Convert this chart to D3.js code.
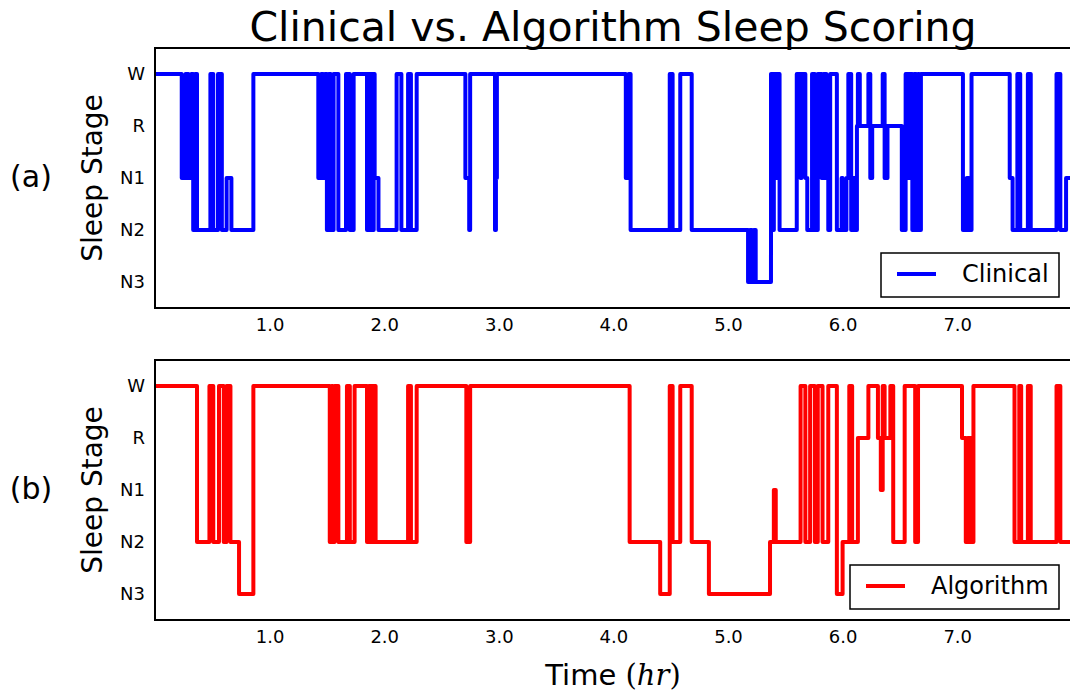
<!DOCTYPE html>
<html><head><meta charset="utf-8">
<script src="https://cdn.jsdelivr.net/npm/d3@7"></script>
<style>body{margin:0;background:#fff}svg{display:block}</style>
</head><body>
<svg id="c" width="1070" height="696"></svg>
<script>
const stages = ["W","R","N1","N2","N3"];
const xTicks = [1,2,3,4,5,6,7];
const epochsPerHour = 120;
const totalEpochs = 960;
const clinicalEpoch = [0,28,32,35,38,40,42,44,58,61,66,70,75,80,103,171,174,176,178,180,182,184,187,192,200,204,208,222,223,225,226,228,229,230,234,253,258,265,268,274,325,329,330,356,357,358,493,496,498,539,542,550,562,621,623,625,627,629,645,647,648,650,651,654,672,676,677,681,683,688,691,694,698,700,703,705,707,714,719,720,724,726,729,731,733,735,736,738,747,749,751,762,764,767,782,786,789,790,793,795,797,799,800,802,846,850,852,855,895,898,903,906,914,917,944,948,954];
const clinicalStage = ["W","N1","W","N1","W","N2","W","N2","W","N2","W","N2","N1","N2","W","N1","W","N1","W","N2","W","N2","W","N2","W","N2","W","N2","W","N2","W","N2","W","N1","N2","W","N2","W","N2","W","N1","N2","W","N2","N1","W","N1","W","N2","W","N2","W","N2","N3","N2","N3","N2","N3","W","N2","W","N1","W","N2","W","N1","W","N1","N2","W","N2","W","N1","W","N1","N2","W","N2","N1","N2","N1","W","N2","N1","N2","R","W","R","W","N1","R","W","N1","R","N2","W","N1","W","N2","W","N2","W","N2","W","N2","N1","N2","W","N1","N2","W","N2","W","N2","W","N2","N1"];
const algorithmEpoch = [0,44,57,61,67,72,75,79,88,103,183,185,186,188,192,201,204,209,222,224,226,227,229,230,231,265,268,274,326,330,497,529,539,542,550,562,580,644,648,650,676,681,686,691,694,699,705,714,720,727,730,736,747,757,760,762,764,770,773,785,796,799,845,849,851,854,857,900,905,907,914,917,944,948];
const algorithmStage = ["W","N2","W","N2","W","N2","W","N2","N3","W","N2","W","N2","W","N2","W","N2","W","N2","W","N2","W","N2","W","N2","W","N2","W","N2","W","N2","N3","W","N2","W","N2","N3","N2","N1","N2","W","N2","W","N2","W","N2","W","N3","N2","W","N2","R","W","R","N1","W","R","W","N2","W","N2","W","R","N2","R","N2","W","N2","W","N2","W","N2","W","N2"];

const svg = d3.select("#c");
const font = "DejaVu Sans, sans-serif";
const left = 155, right = 155 + 8 * 114.6;
const x = d3.scaleLinear().domain([0, totalEpochs / epochsPerHour]).range([left, right]);

svg.append("text").attr("x", 613).attr("y", 41).attr("text-anchor", "middle")
  .attr("font-family", font).attr("font-size", 41).text("Clinical vs. Algorithm Sleep Scoring");

function panel(top, epochs, stg, color, tag, legendLabel, legendBox) {
  const h = 260;
  const y = d3.scalePoint().domain(stages).range([top, top + h]).padding(0.5);
  const pts = epochs.map((e, i) => ({t: e / epochsPerHour, s: stg[i]}));
  pts.push({t: totalEpochs / epochsPerHour, s: stg[stg.length - 1]});
  const id = "clip" + tag.replace(/\W/g, "");
  svg.append("clipPath").attr("id", id).append("rect")
    .attr("x", left).attr("y", top).attr("width", right - left).attr("height", h);
  const line = d3.line().x(d => x(d.t)).y(d => y(d.s)).curve(d3.curveStepAfter);
  svg.append("path").datum(pts).attr("clip-path", `url(#${id})`)
    .attr("d", line).attr("fill", "none").attr("stroke", color)
    .attr("stroke-width", 4).attr("stroke-linejoin", "round");

  svg.append("path").attr("d", `M${right},${top}H${left}V${top + h}H${right}`)
    .attr("fill", "none").attr("stroke", "#000").attr("stroke-width", 2);

  const ya = svg.append("g").attr("transform", `translate(${left},0)`)
    .call(d3.axisLeft(y).tickSize(0).tickPadding(10));
  ya.select(".domain").remove();
  ya.selectAll("text").attr("font-family", font).attr("font-size", 18).attr("fill", "#000");

  const xa = svg.append("g").attr("transform", `translate(0,${top + h})`)
    .call(d3.axisBottom(x).tickValues(xTicks).tickFormat(d3.format(".1f")).tickSize(0).tickPadding(10));
  xa.select(".domain").remove();
  xa.selectAll("text").attr("font-family", font).attr("font-size", 18).attr("fill", "#000");

  svg.append("text").attr("transform", `translate(102,${top + h / 2}) rotate(-90)`)
    .attr("text-anchor", "middle").attr("font-family", font).attr("font-size", 28).text("Sleep Stage");
  svg.append("text").attr("x", 31).attr("y", top + h / 2 + 9).attr("text-anchor", "middle")
    .attr("font-family", font).attr("font-size", 30).text(tag);

  const lg = svg.append("g");
  lg.append("rect").attr("x", legendBox[0]).attr("y", legendBox[1]).attr("width", legendBox[2]).attr("height", 44)
    .attr("fill", "#fff").attr("stroke", "#000").attr("stroke-width", 1.5);
  lg.append("line").attr("x1", legendBox[0] + 16).attr("x2", legendBox[0] + 55)
    .attr("y1", legendBox[1] + 21).attr("y2", legendBox[1] + 21).attr("stroke", color).attr("stroke-width", 4);
  lg.append("text").attr("x", legendBox[0] + 81).attr("y", legendBox[1] + 29)
    .attr("font-family", font).attr("font-size", 24).text(legendLabel);
}

panel(48, clinicalEpoch, clinicalStage, "#0000ff", "(a)", "Clinical", [881, 253, 178]);
panel(360, algorithmEpoch, algorithmStage, "#ff0000", "(b)", "Algorithm", [850, 565, 209]);

const xl = svg.append("text").attr("x", 613).attr("y", 685).attr("text-anchor", "middle")
  .attr("font-family", font).attr("font-size", 29);
xl.append("tspan").text("Time ");
xl.append("tspan").attr("font-family", "DejaVu Serif, serif").text("(");
xl.append("tspan").attr("font-family", "DejaVu Serif, serif").attr("font-style", "italic").text("hr");
xl.append("tspan").attr("font-family", "DejaVu Serif, serif").text(")");
</script>
</body></html>
